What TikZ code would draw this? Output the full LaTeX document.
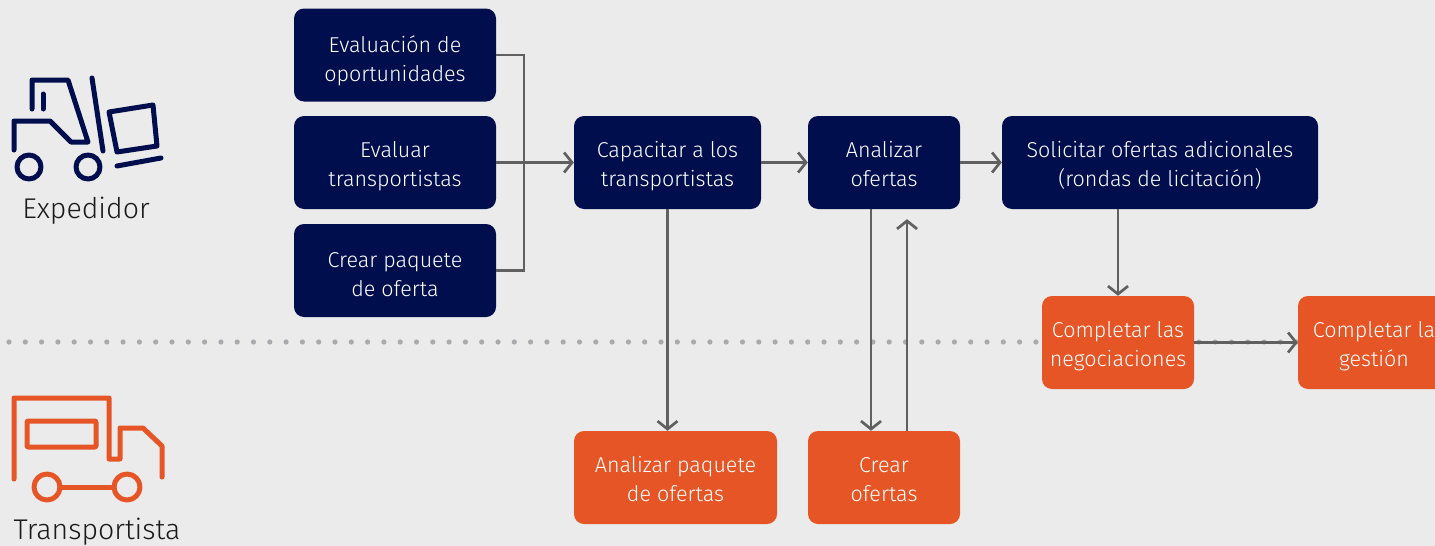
\documentclass[tikz,border=0pt]{standalone}
\usepackage{fontspec}
\setmainfont{Fira Sans Light}
\usetikzlibrary{arrows.meta}
\definecolor{bgc}{HTML}{EBEBEB}
\definecolor{navy}{HTML}{000E4E}
\definecolor{orng}{HTML}{E55525}
\definecolor{arr}{HTML}{606060}
\definecolor{dotc}{HTML}{A9A9AE}
\definecolor{lbl}{HTML}{1A1A1A}
\newcommand{\twoline}[2]{\vtop{\baselineskip=29pt\halign{\hfil##\hfil\cr #1\cr #2\cr}}}
\tikzset{
  box/.style={rounded corners=10pt, inner sep=0pt, text=white,
    font=\fontsize{21.5}{29}\selectfont, text height=17pt, text depth=28pt},
  lowtext/.style={text height=19.5pt, text depth=25.5pt},
  navybox/.style={box, fill=navy},
  orngbox/.style={box, fill=orng},
  flow/.style={draw=arr, line width=2.7pt, -{Straight Barb[length=8pt,width=20pt,line width=2.7pt]}},
  plain/.style={draw=arr, line width=2.7pt},
  icon/.style={line width=5pt, line cap=round, line join=round},
}
\begin{document}
\begin{tikzpicture}[x=1pt,y=-1pt]
\fill[bgc] (0,0) rectangle (1435,546);
\useasboundingbox (0,0) rectangle (1435,546);
% dotted separator
\foreach \i in {0,...,88} {\fill[dotc] (9+16.3*\i,342) circle (2.6);}
% nodes
\node[navybox, lowtext, minimum width=202pt, minimum height=93pt] (b1) at (395,55) {\twoline{Evaluación de}{oportunidades}};
\node[navybox, minimum width=202pt, minimum height=93pt] (b2) at (395,162.5) {\twoline{Evaluar}{transportistas}};
\node[navybox, lowtext, minimum width=202pt, minimum height=93pt] (b3) at (395,270.5) {\twoline{Crear paquete}{de oferta}};
\node[navybox, minimum width=187pt, minimum height=93pt] (cap) at (667.5,162.5) {\twoline{Capacitar a los}{transportistas}};
\node[navybox, minimum width=152pt, minimum height=93pt] (ana) at (884,162.5) {\twoline{Analizar}{ofertas}};
\node[navybox, minimum width=316pt, minimum height=93pt] (sol) at (1160,162.5) {\twoline{Solicitar ofertas adicionales}{(rondas de licitación)}};
\node[orngbox, minimum width=152pt, minimum height=93pt] (neg) at (1118,342.5) {\twoline{Completar las}{negociaciones}};
\node[orngbox, minimum width=152pt, minimum height=93pt] (ges) at (1374,342.5) {\twoline{Completar la}{gestión}};
\node[orngbox, minimum width=203pt, minimum height=93pt] (paq) at (675.5,477.5) {\twoline{Analizar paquete}{de ofertas}};
\node[orngbox, minimum width=152pt, minimum height=93pt] (cre) at (884,477.5) {\twoline{Crear}{ofertas}};
% connectors
\coordinate (j) at (524,163);
\draw[plain] (b1.east) -| (j);
\draw[plain] (b3.east) -| (j);
\draw[flow] (b2.east) -- (cap.west);
\draw[flow] (cap.east) -- (ana.west);
\draw[flow] (ana.east) -- (sol.west);
\draw[flow] (cap.south) -- (cap.south |- paq.north);
\draw[flow] ([xshift=-13pt]ana.south) -- ([xshift=-13pt]ana.south |- cre.north);
\coordinate (upend) at ([xshift=23pt,yshift=-10pt]ana.south);
\draw[flow] ([xshift=23pt]cre.north) -- (upend);
\draw[flow] (neg.north |- sol.south) -- (neg.north);
\draw[flow] (neg.east) -- (ges.west);
% forklift icon
\begin{scope}[icon, draw=navy]
\draw (14,150) -- (14,121) -- (50,121) -- (71,142) -- (88,142) -- (68,80) -- (32,80) -- (32,109);
\draw (43,94) -- (43,109);
\draw (92,78) -- (103,151);
\draw (109,112) -- (153,105) -- (157,146) -- (117,152) -- cycle;
\draw (117,166) -- (161,158);
\draw (29,167) circle (12);
\draw (88,167) circle (12);
\end{scope}
\node[anchor=base, text=lbl, font=\fontsize{28.5}{30}\selectfont] (exp) at (86,218) {Expedidor};
% truck icon
\begin{scope}[icon, draw=orng]
\draw (14,479) -- (14,398) -- (109,398) -- (109,459) -- (120,459) -- (120,428) -- (143,428) -- (162,446) -- (162,477);
\draw[rounded corners=1pt] (27,421) rectangle (96,447);
\draw (47,487) circle (13);
\draw (127,487) circle (13);
\draw (60,487) -- (114,487);
\end{scope}
\node[anchor=base, text=lbl, font=\fontsize{28.5}{30}\selectfont] (tra) at (97,539) {Transportista};
\end{tikzpicture}
\end{document}
